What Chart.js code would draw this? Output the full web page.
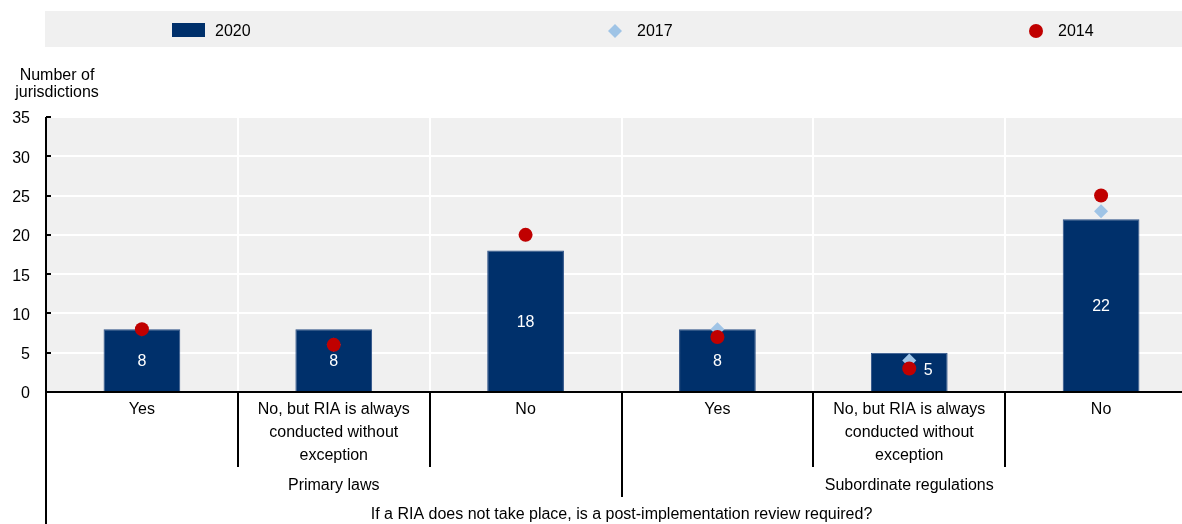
<!DOCTYPE html>
<html>
<head>
<meta charset="utf-8">
<script src="https://cdn.jsdelivr.net/npm/chart.js@4"></script>
<style>
html, body { margin:0; padding:0; background:#fff; overflow:hidden; }
#wrap { position:relative; width:1204px; height:524px; }
</style>
</head>
<body>
<div id="wrap"><canvas id="chartRia" width="1204" height="524"></canvas></div>
<script>
// data
const categories = [
	["Yes"],
	["No, but RIA is always", "conducted without", "exception"],
	["No"],
	["Yes"],
	["No, but RIA is always", "conducted without", "exception"],
	["No"]
];
const groupLabels = ["Primary laws", "Subordinate regulations"];
const groupSize = 3;
const axisTitleX = "If a RIA does not take place, is a post-implementation review required?";
const axisTitleY = ["Number of", "jurisdictions"];

const values2020 = [8, 8, 18, 8, 5, 22];
const values2017 = [8, 6, 20, 8, 4, 23];
const values2014 = [8, 6, 20, 7, 3, 25];

const yMin = 0;
const yMax = 35;
const yStep = 5;

const fontFam = "'Liberation Sans', Arial, sans-serif";
const colBar = "#00306b";
const col2017 = "#9fc4e6";
const col2014 = "#c00000";
const colPlot = "#f0f0f0";

Chart.defaults.font.family = fontFam;
Chart.defaults.font.size = 16;
Chart.defaults.color = "#000";

// plot background + legend band
const bgPlugin = {
	id: "bgPlugin",
	beforeDraw(chart) {
		const ctx = chart.ctx;
		const a = chart.chartArea;
		ctx.save();
		ctx.fillStyle = colPlot;
		ctx.fillRect(a.left, a.top, a.right - a.left, a.bottom - a.top);

		// legend band
		ctx.fillRect(45, 11, chart.width - 45, 36);
		const ds = chart.data.datasets;
		const ly = 31;
		ctx.font = "16px " + fontFam;
		ctx.textBaseline = "middle";
		ctx.textAlign = "left";

		ctx.fillStyle = ds[0].backgroundColor;
		ctx.fillRect(172, 23, 33, 14);
		ctx.fillStyle = "#000";
		ctx.fillText(ds[0].label, 215, ly + 1);

		ctx.fillStyle = ds[1].pointBackgroundColor;
		ctx.beginPath();
		ctx.moveTo(615, ly - 7); ctx.lineTo(622, ly); ctx.lineTo(615, ly + 7); ctx.lineTo(608, ly);
		ctx.closePath(); ctx.fill();
		ctx.fillStyle = "#000";
		ctx.fillText(ds[1].label, 637, ly + 1);

		ctx.fillStyle = ds[2].pointBackgroundColor;
		ctx.beginPath();
		ctx.arc(1036, ly, 7, 0, Math.PI * 2);
		ctx.fill();
		ctx.fillStyle = "#000";
		ctx.fillText(ds[2].label, 1058, ly + 1);

		// y axis title
		ctx.textAlign = "center";
		ctx.fillText(axisTitleY[0], 57, 76);
		ctx.fillText(axisTitleY[1], 57, 93);
		ctx.restore();
	}
};

// value labels inside bars (before markers get drawn)
const barLabelPlugin = {
	id: "barLabelPlugin",
	afterDatasetDraw(chart, args) {
		if (args.index !== 0) return;
		const ctx = chart.ctx;
		const meta = chart.getDatasetMeta(0);
		ctx.save();
		ctx.font = "16px " + fontFam;
		ctx.fillStyle = "#fff";
		ctx.textAlign = "center";
		ctx.textBaseline = "middle";
		meta.data.forEach((bar, i) => {
			let x = bar.x;
			let y = (bar.y + bar.base) / 2 + 2;
			// short bar: move label aside so the markers stay visible
			if (bar.base - bar.y < 50) { x += 19; y -= 3; }
			ctx.fillText(String(values2020[i]), x, y);
		});
		ctx.restore();
	}
};

// multi level category axis below the plot
const catAxisPlugin = {
	id: "catAxisPlugin",
	afterDraw(chart) {
		const ctx = chart.ctx;
		const a = chart.chartArea;
		const xs = chart.scales.x;
		const ys = chart.scales.y;
		ctx.save();
		ctx.strokeStyle = "#000";
		ctx.lineWidth = 2;

		// left axis runs down through the labels
		ctx.beginPath();
		ctx.moveTo(a.left, a.top);
		ctx.lineTo(a.left, chart.height);
		ys.ticks.forEach(t => {
			const py = Math.round(ys.getPixelForValue(t.value));
			ctx.moveTo(a.left, py);
			ctx.lineTo(a.left + 5, py);
		});
		ctx.stroke();

		for (let i = 1; i < categories.length; i++) {
			const bx = Math.round((xs.getPixelForValue(i - 1) + xs.getPixelForValue(i)) / 2);
			const yEnd = (i % groupSize === 0) ? a.bottom + 105 : a.bottom + 75;
			ctx.beginPath();
			ctx.moveTo(bx, a.bottom);
			ctx.lineTo(bx, yEnd);
			ctx.stroke();
		}

		ctx.font = "16px " + fontFam;
		ctx.fillStyle = "#000";
		ctx.textAlign = "center";
		ctx.textBaseline = "middle";
		categories.forEach((lines, i) => {
			const cx = xs.getPixelForValue(i);
			lines.forEach((t, k) => ctx.fillText(t, cx, a.bottom + 18 + k * 23));
		});
		groupLabels.forEach((g, gi) => {
			const c0 = xs.getPixelForValue(gi * groupSize);
			const c1 = xs.getPixelForValue(gi * groupSize + groupSize - 1);
			ctx.fillText(g, (c0 + c1) / 2, a.bottom + 94);
		});
		ctx.fillText(axisTitleX, (a.left + a.right) / 2, a.bottom + 123);
		ctx.restore();
	}
};

function setChart() {
	const ctx = document.getElementById("chartRia").getContext("2d");
	new Chart(ctx, {
		type: "bar",
		data: {
			labels: categories.map(c => c.join(" ")),
			datasets: [
				{
					type: "bar",
					label: "2020",
					data: values2020,
					backgroundColor: colBar,
					borderColor: "#2a4f86",
					borderWidth: 1,
					categoryPercentage: 1,
					barPercentage: 0.4,
					order: 3
				},
				{
					type: "line",
					label: "2017",
					data: values2017,
					showLine: false,
					pointStyle: "rectRot",
					pointRadius: 7,
					pointBackgroundColor: col2017,
					pointBorderWidth: 0,
					borderColor: col2017,
					order: 2
				},
				{
					type: "line",
					label: "2014",
					data: values2014,
					showLine: false,
					pointStyle: "circle",
					pointRadius: 7,
					pointBackgroundColor: col2014,
					pointBorderWidth: 0,
					borderColor: col2014,
					order: 1
				}
			]
		},
		options: {
			responsive: false,
			animation: false,
			devicePixelRatio: 1,
			layout: { padding: { top: 117, bottom: 132, left: 0, right: 2 } },
			plugins: {
				legend: { display: false },
				tooltip: { enabled: false }
			},
			scales: {
				x: {
					offset: true,
					ticks: { display: false },
					grid: { color: "#fff", lineWidth: 2, drawTicks: false, offset: true },
					border: { color: "#000", width: 2 },
					afterFit(scale) { scale.height = 0; }
				},
				y: {
					min: yMin,
					max: yMax,
					ticks: { stepSize: yStep, padding: 16, labelOffset: 2, font: { size: 16 } },
					grid: { color: "#fff", lineWidth: 2, drawTicks: false },
					border: { display: false },
					afterFit(scale) { scale.width = 46; }
				}
			}
		},
		plugins: [bgPlugin, barLabelPlugin, catAxisPlugin]
	});
}

setChart();
</script>
</body>
</html>
